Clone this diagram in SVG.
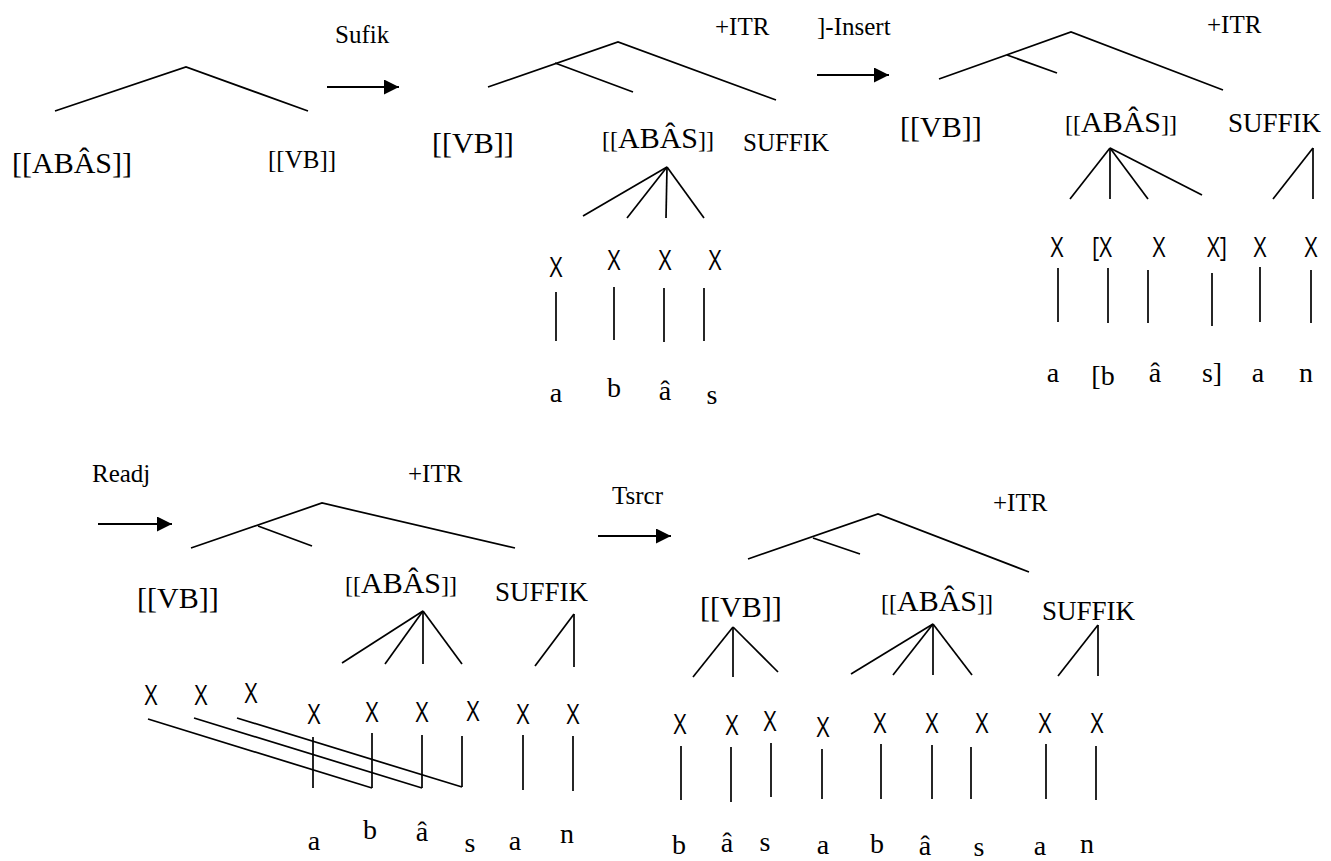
<svg xmlns="http://www.w3.org/2000/svg" width="1331" height="861" viewBox="0 0 1331 861">
  <style>
    .bg { fill: #ffffff; }
    .ln { stroke: #000; stroke-width: 1.7; fill: none; stroke-linecap: butt; }
    .lbl { font-family: "Liberation Serif", "Times New Roman", serif; font-size: 25px; fill: #000; }
    .cat { font-family: "Liberation Serif", "Times New Roman", serif; font-size: 30px; fill: #000; }
    .suf { font-family: "Liberation Serif", "Times New Roman", serif; font-size: 27px; fill: #000; }
    .seg { font-family: "Liberation Serif", "Times New Roman", serif; font-size: 28px; fill: #000; text-anchor: middle; }
    .x { font-family: "Open Sans", "Liberation Sans", sans-serif; font-size: 27px; fill: #000; text-anchor: middle; }
    .br { font-size: 24px; }
    .arrow { stroke: #000; stroke-width: 1.8; fill: none; }
  </style>
  <defs>
    <marker id="head" markerUnits="userSpaceOnUse" markerWidth="16" markerHeight="16" viewBox="0 0 16 16" refX="15" refY="7.5" orient="auto">
      <path d="M0,0 L15,7.5 L0,15 Z" fill="#000"/>
    </marker>
  </defs>
  <rect class="bg" x="0" y="0" width="1331" height="861"/>

  <!-- Stage 1: base compound -->
  <g id="stage1">
    <g id="s1-branches">
      <polyline class="ln" points="55,111 186,67 308,111"/>
    </g>
    <g id="s1-abas"><text class="cat" x="12" y="173">[[ABÂS]]</text></g>
    <g id="s1-vb"><text class="lbl" x="268" y="168">[[VB]]</text></g>
  </g>

  <!-- Stage 2: after suffixation -->
  <g id="stage2">
    <g id="s2-branches">
      <polyline class="ln" points="488,87 618,42 776,100"/>
      <line class="ln" x1="555" y1="63" x2="633" y2="92"/>
      <line class="ln" x1="667" y1="167" x2="583" y2="216"/>
      <line class="ln" x1="667" y1="167" x2="627" y2="218"/>
      <line class="ln" x1="667" y1="167" x2="666" y2="218"/>
      <line class="ln" x1="667" y1="167" x2="704" y2="218"/>
      <line class="ln" x1="556" y1="292" x2="556" y2="341"/>
      <line class="ln" x1="614" y1="287" x2="614" y2="340"/>
      <line class="ln" x1="664" y1="288" x2="664" y2="342"/>
      <line class="ln" x1="704" y1="288" x2="704" y2="341"/>
    </g>
    <g id="s2-itr"><text class="lbl" x="715" y="35">+ITR</text></g>
    <g id="s2-vb"><text class="cat" x="432" y="153">[[VB]]</text></g>
    <g id="s2-abas"><text class="cat" x="602" y="148"><tspan class="br">[[</tspan>ABÂS<tspan class="br">]]</tspan></text></g>
    <g id="s2-suffik"><text class="lbl" x="743" y="151">SUFFIK</text></g>
    <g id="s2-skeleton">
      <text class="x" x="556" y="277" textLength="13" lengthAdjust="spacingAndGlyphs">X</text>
      <text class="x" x="614" y="270" textLength="13" lengthAdjust="spacingAndGlyphs">X</text>
      <text class="x" x="665" y="270" textLength="13" lengthAdjust="spacingAndGlyphs">X</text>
      <text class="x" x="715" y="270" textLength="13" lengthAdjust="spacingAndGlyphs">X</text>
    </g>
    <g id="s2-segments">
      <text class="seg" x="556" y="402">a</text>
      <text class="seg" x="614" y="397">b</text>
      <text class="seg" x="665" y="400">â</text>
      <text class="seg" x="712" y="404">s</text>
    </g>
  </g>

  <!-- Stage 3: bracket insertion -->
  <g id="stage3">
    <g id="s3-branches">
      <polyline class="ln" points="939,79 1071,32 1223,90"/>
      <line class="ln" x1="1007" y1="55" x2="1057" y2="73"/>
      <line class="ln" x1="1110" y1="148" x2="1070" y2="199"/>
      <line class="ln" x1="1110" y1="148" x2="1110" y2="199"/>
      <line class="ln" x1="1110" y1="148" x2="1148" y2="199"/>
      <line class="ln" x1="1110" y1="148" x2="1202" y2="195"/>
      <line class="ln" x1="1313" y1="148" x2="1273" y2="199"/>
      <line class="ln" x1="1313" y1="148" x2="1313" y2="199"/>
      <line class="ln" x1="1058" y1="268" x2="1058" y2="322"/>
      <line class="ln" x1="1108" y1="268" x2="1108" y2="323"/>
      <line class="ln" x1="1148" y1="270" x2="1148" y2="323"/>
      <line class="ln" x1="1212" y1="273" x2="1212" y2="326"/>
      <line class="ln" x1="1260" y1="267" x2="1260" y2="322"/>
      <line class="ln" x1="1311" y1="270" x2="1311" y2="323"/>
    </g>
    <g id="s3-itr"><text class="lbl" x="1207" y="33">+ITR</text></g>
    <g id="s3-vb"><text class="cat" x="900" y="137">[[VB]]</text></g>
    <g id="s3-abas"><text class="cat" x="1065" y="132"><tspan class="br">[[</tspan>ABÂS<tspan class="br">]]</tspan></text></g>
    <g id="s3-suffik"><text class="suf" x="1228" y="132">SUFFIK</text></g>
    <g id="s3-skeleton">
      <text class="x" x="1057" y="257" textLength="13" lengthAdjust="spacingAndGlyphs">X</text>
      <text class="x" x="1102" y="257" textLength="20" lengthAdjust="spacingAndGlyphs">[X</text>
      <text class="x" x="1159" y="257" textLength="13" lengthAdjust="spacingAndGlyphs">X</text>
      <text class="x" x="1217" y="257" textLength="20" lengthAdjust="spacingAndGlyphs">X]</text>
      <text class="x" x="1260" y="257" textLength="13" lengthAdjust="spacingAndGlyphs">X</text>
      <text class="x" x="1311" y="257" textLength="13" lengthAdjust="spacingAndGlyphs">X</text>
    </g>
    <g id="s3-segments">
      <text class="seg" x="1053" y="382">a</text>
      <text class="seg" x="1103" y="385">[b</text>
      <text class="seg" x="1155" y="382">â</text>
      <text class="seg" x="1212" y="382">s]</text>
      <text class="seg" x="1258" y="382">a</text>
      <text class="seg" x="1306" y="382">n</text>
    </g>
  </g>

  <!-- Stage 4: readjustment -->
  <g id="stage4">
    <g id="s4-branches">
      <polyline class="ln" points="191,548 322,503 515,548"/>
      <line class="ln" x1="258" y1="526" x2="312" y2="546"/>
      <line class="ln" x1="423" y1="611" x2="342" y2="663"/>
      <line class="ln" x1="423" y1="611" x2="385" y2="664"/>
      <line class="ln" x1="423" y1="611" x2="423" y2="664"/>
      <line class="ln" x1="423" y1="611" x2="462" y2="664"/>
      <line class="ln" x1="574" y1="614" x2="535" y2="666"/>
      <line class="ln" x1="574" y1="614" x2="574" y2="667"/>
      <line class="ln" x1="313" y1="737" x2="313" y2="788"/>
      <line class="ln" x1="372" y1="733" x2="372" y2="788"/>
      <line class="ln" x1="422" y1="735" x2="422" y2="788"/>
      <line class="ln" x1="462" y1="736" x2="462" y2="787"/>
      <line class="ln" x1="523" y1="735" x2="523" y2="790"/>
      <line class="ln" x1="573" y1="736" x2="573" y2="791"/>
      <line class="ln" x1="148" y1="719" x2="372" y2="788"/>
      <line class="ln" x1="194" y1="718" x2="422" y2="788"/>
      <line class="ln" x1="237" y1="718" x2="462" y2="787"/>
    </g>
    <g id="s4-itr"><text class="lbl" x="408" y="482">+ITR</text></g>
    <g id="s4-vb"><text class="cat" x="137" y="608">[[VB]]</text></g>
    <g id="s4-abas"><text class="cat" x="345" y="593"><tspan class="br">[[</tspan>ABÂS<tspan class="br">]]</tspan></text></g>
    <g id="s4-suffik"><text class="suf" x="495" y="601">SUFFIK</text></g>
    <g id="s4-skeleton">
      <text class="x" x="151" y="705" textLength="13" lengthAdjust="spacingAndGlyphs">X</text>
      <text class="x" x="201" y="705" textLength="13" lengthAdjust="spacingAndGlyphs">X</text>
      <text class="x" x="251" y="703" textLength="13" lengthAdjust="spacingAndGlyphs">X</text>
      <text class="x" x="314" y="724" textLength="13" lengthAdjust="spacingAndGlyphs">X</text>
      <text class="x" x="372" y="722" textLength="13" lengthAdjust="spacingAndGlyphs">X</text>
      <text class="x" x="422" y="722" textLength="13" lengthAdjust="spacingAndGlyphs">X</text>
      <text class="x" x="473" y="721" textLength="13" lengthAdjust="spacingAndGlyphs">X</text>
      <text class="x" x="523" y="724" textLength="13" lengthAdjust="spacingAndGlyphs">X</text>
      <text class="x" x="573" y="724" textLength="13" lengthAdjust="spacingAndGlyphs">X</text>
    </g>
    <g id="s4-segments">
      <text class="seg" x="314" y="850">a</text>
      <text class="seg" x="370" y="839">b</text>
      <text class="seg" x="422" y="841">â</text>
      <text class="seg" x="470" y="852">s</text>
      <text class="seg" x="515" y="850">a</text>
      <text class="seg" x="567" y="843">n</text>
    </g>
  </g>

  <!-- Stage 5: transcription -->
  <g id="stage5">
    <g id="s5-branches">
      <polyline class="ln" points="748,559 878,514 1029,572"/>
      <line class="ln" x1="813" y1="538" x2="860" y2="554"/>
      <line class="ln" x1="733" y1="627" x2="693" y2="677"/>
      <line class="ln" x1="733" y1="627" x2="733" y2="677"/>
      <line class="ln" x1="733" y1="627" x2="778" y2="672"/>
      <line class="ln" x1="933" y1="624" x2="851" y2="674"/>
      <line class="ln" x1="933" y1="624" x2="893" y2="675"/>
      <line class="ln" x1="933" y1="624" x2="933" y2="675"/>
      <line class="ln" x1="933" y1="624" x2="972" y2="675"/>
      <line class="ln" x1="1098" y1="625" x2="1058" y2="676"/>
      <line class="ln" x1="1098" y1="625" x2="1098" y2="676"/>
      <line class="ln" x1="681" y1="746" x2="681" y2="800"/>
      <line class="ln" x1="731" y1="747" x2="731" y2="802"/>
      <line class="ln" x1="771" y1="743" x2="771" y2="797"/>
      <line class="ln" x1="822" y1="749" x2="822" y2="799"/>
      <line class="ln" x1="881" y1="744" x2="881" y2="799"/>
      <line class="ln" x1="932" y1="745" x2="932" y2="799"/>
      <line class="ln" x1="971" y1="747" x2="971" y2="799"/>
      <line class="ln" x1="1046" y1="744" x2="1046" y2="799"/>
      <line class="ln" x1="1096" y1="746" x2="1096" y2="800"/>
    </g>
    <g id="s5-itr"><text class="lbl" x="993" y="511">+ITR</text></g>
    <g id="s5-vb"><text class="cat" x="700" y="617">[[VB]]</text></g>
    <g id="s5-abas"><text class="cat" x="881" y="611"><tspan class="br">[[</tspan>ABÂS<tspan class="br">]]</tspan></text></g>
    <g id="s5-suffik"><text class="suf" x="1042" y="620">SUFFIK</text></g>
    <g id="s5-skeleton">
      <text class="x" x="680" y="734" textLength="13" lengthAdjust="spacingAndGlyphs">X</text>
      <text class="x" x="732" y="735" textLength="13" lengthAdjust="spacingAndGlyphs">X</text>
      <text class="x" x="770" y="731" textLength="13" lengthAdjust="spacingAndGlyphs">X</text>
      <text class="x" x="823" y="737" textLength="13" lengthAdjust="spacingAndGlyphs">X</text>
      <text class="x" x="880" y="733" textLength="13" lengthAdjust="spacingAndGlyphs">X</text>
      <text class="x" x="932" y="733" textLength="13" lengthAdjust="spacingAndGlyphs">X</text>
      <text class="x" x="982" y="733" textLength="13" lengthAdjust="spacingAndGlyphs">X</text>
      <text class="x" x="1045" y="733" textLength="13" lengthAdjust="spacingAndGlyphs">X</text>
      <text class="x" x="1097" y="733" textLength="13" lengthAdjust="spacingAndGlyphs">X</text>
    </g>
    <g id="s5-segments">
      <text class="seg" x="679" y="854">b</text>
      <text class="seg" x="727" y="852">â</text>
      <text class="seg" x="765" y="851">s</text>
      <text class="seg" x="823" y="854">a</text>
      <text class="seg" x="877" y="853">b</text>
      <text class="seg" x="925" y="855">â</text>
      <text class="seg" x="979" y="856">s</text>
      <text class="seg" x="1040" y="855">a</text>
      <text class="seg" x="1087" y="853">n</text>
    </g>
  </g>

  <!-- Derivation steps: rule labels and arrows between stages -->
  <g id="connectors">
    <line class="arrow" x1="327" y1="87" x2="399" y2="87" marker-end="url(#head)"/>
    <line class="arrow" x1="817" y1="75" x2="889" y2="75" marker-end="url(#head)"/>
    <line class="arrow" x1="98" y1="524" x2="172" y2="524" marker-end="url(#head)"/>
    <line class="arrow" x1="598" y1="536" x2="671" y2="536" marker-end="url(#head)"/>
    <text class="lbl" x="335" y="43">Sufik</text>
    <text class="lbl" x="817" y="35">]-Insert</text>
    <text class="lbl" x="92" y="482">Readj</text>
    <text class="lbl" x="612" y="504">Tsrcr</text>
  </g>
</svg>
